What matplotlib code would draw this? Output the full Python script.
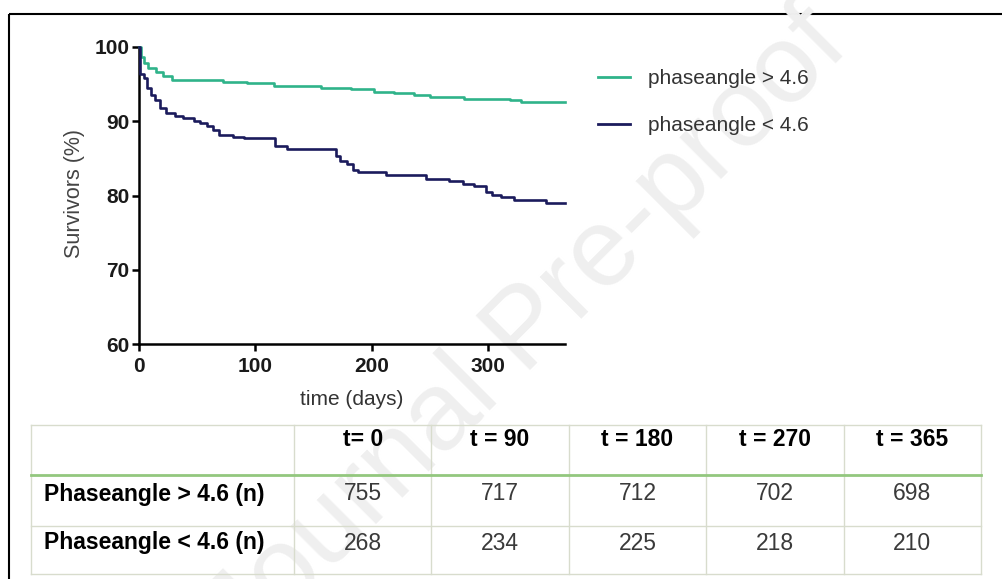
import matplotlib
matplotlib.use("Agg")
import matplotlib.pyplot as plt
from matplotlib.lines import Line2D
from matplotlib.patches import Rectangle

plt.rcParams['font.family'] = ['Liberation Sans', 'DejaVu Sans']

# ---- data ----
series_labels = ["phaseangle > 4.6", "phaseangle < 4.6"]
series_colors = ["#2fb38a", "#1b1b5c"]

t_hi = [0, 2, 4, 8, 15, 21, 28, 72, 93, 116, 156, 182, 202, 219, 236, 250, 279, 319, 328, 366]
s_hi = [100, 98.6, 97.8, 97.2, 96.6, 96.1, 95.6, 95.3, 95.1, 94.8, 94.5, 94.3, 94.0, 93.8, 93.6, 93.3, 93.0, 92.8, 92.6, 92.6]

t_lo = [0, 1, 4, 7, 10, 14, 18, 23, 31, 38, 47, 52, 58, 64, 69, 81, 90, 117, 127, 169, 173, 179, 184, 188, 212, 247, 266, 278, 288, 298, 303, 311, 322, 350, 366]
s_lo = [100, 96.3, 95.8, 94.5, 93.6, 92.9, 91.8, 91.1, 90.7, 90.4, 90.1, 89.8, 89.3, 88.8, 88.1, 87.9, 87.7, 86.6, 86.2, 85.3, 84.7, 84.2, 83.5, 83.1, 82.7, 82.2, 81.9, 81.6, 81.3, 80.5, 80.1, 79.8, 79.4, 79.0, 79.0]

x_ticks = [0, 100, 200, 300]
y_ticks = [60, 70, 80, 90, 100]

table_header = ["t= 0", "t = 90", "t = 180", "t = 270", "t = 365"]
table_rows = ["Phaseangle > 4.6 (n)", "Phaseangle < 4.6 (n)"]
n_hi = [755, 717, 712, 702, 698]
n_lo = [268, 234, 225, 218, 210]

W, H = 1003, 579
fig = plt.figure(figsize=(W / 100, H / 100), dpi=100)

# background layer: watermark + frame
bg = fig.add_axes([0, 0, 1, 1], zorder=0)
bg.set_xlim(0, W)
bg.set_ylim(H, 0)
bg.axis('off')
bg.text(528, 332, "Journal Pre-proof", rotation=45, rotation_mode='anchor',
        ha='center', va='center', fontsize=80, color='#efefef')
bg.add_patch(Rectangle((9.5, 14), W + 20, H + 20, fill=False, edgecolor='black', lw=1.5))

# main KM axes
ax = fig.add_axes([139 / W, 1 - 344 / H, (565 - 139) / W, (344 - 47) / H], zorder=2)
ax.patch.set_alpha(0)
ax.step(t_hi, s_hi, where='post', color=series_colors[0], lw=1.9, clip_on=False, zorder=3)
ax.step(t_lo, s_lo, where='post', color=series_colors[1], lw=1.9, clip_on=False, zorder=4)
ax.set_xlim(0, 366)
ax.set_ylim(60, 100)
ax.set_xticks(x_ticks)
ax.set_yticks(y_ticks)
for s in ['top', 'right']:
    ax.spines[s].set_visible(False)
for s in ['left', 'bottom']:
    ax.spines[s].set_linewidth(1.8)
ax.tick_params(axis='both', direction='out', length=5, width=1.8, labelsize=15, colors='black')
ax.tick_params(axis='y', pad=2)
ax.tick_params(axis='x', pad=4)
for lab in ax.get_xticklabels() + ax.get_yticklabels():
    lab.set_fontweight('bold')
    lab.set_color('#1a1a1a')
ax.set_xlabel("time (days)", fontsize=15, color='#333333')
ax.xaxis.set_label_coords(0.5, -(390 - 344) / (344 - 47))
ax.set_ylabel("Survivors (%)", fontsize=15.5, color='#444444')
ax.yaxis.set_label_coords((85 - 139) / (565 - 139), (344 - 193) / (344 - 47))

handles = [Line2D([], [], color=c, lw=2.0) for c in series_colors]
leg = fig.legend(handles, series_labels, loc='upper left',
                 bbox_to_anchor=(598 / W, 1 - 69 / H), frameon=False, fontsize=15,
                 handlelength=1.54, handletextpad=0.86, labelspacing=1.35,
                 borderpad=0, borderaxespad=0)
for t in leg.get_texts():
    t.set_color('#333333')

# table layer
tab = fig.add_axes([0, 0, 1, 1], zorder=3)
tab.set_xlim(0, W)
tab.set_ylim(H, 0)
tab.axis('off')
x_left, first_w, x_right = 31, 263, 981
ncol = len(table_header)
col_w = (x_right - x_left - first_w) / ncol
col_edges = [x_left, x_left + first_w] + [x_left + first_w + col_w * (i + 1) for i in range(ncol)]
row_edges = [425, 475, 526, 574]
grid_c = '#d8dccd'
for xe in col_edges:
    tab.plot([xe, xe], [row_edges[0], row_edges[-1]], color=grid_c, lw=1.0)
for i, ye in enumerate(row_edges):
    if i == 1:
        continue
    tab.plot([x_left, x_right], [ye, ye], color=grid_c, lw=1.0)
tab.plot([x_left, x_right], [row_edges[1], row_edges[1]], color='#93c77e', lw=2.0)

centers = [col_edges[i + 1] + col_w / 2 for i in range(ncol)]
for cx, h in zip(centers, table_header):
    tab.text(cx, row_edges[0] + 14, h, ha='center', va='center', fontsize=16.5,
             fontweight='bold', color='black')
row_offsets = [19, 17]
for r, (lab, vals) in enumerate(zip(table_rows, [n_hi, n_lo])):
    yc = row_edges[r + 1] + row_offsets[r]
    tab.text(44, yc, lab, ha='left', va='center', fontsize=16.5, fontweight='bold', color='black')
    for cx, v in zip(centers, vals):
        tab.text(cx, yc, str(v), ha='center', va='center', fontsize=16.5, color='#3a3a3a')

fig.savefig("out.png", dpi=100)
